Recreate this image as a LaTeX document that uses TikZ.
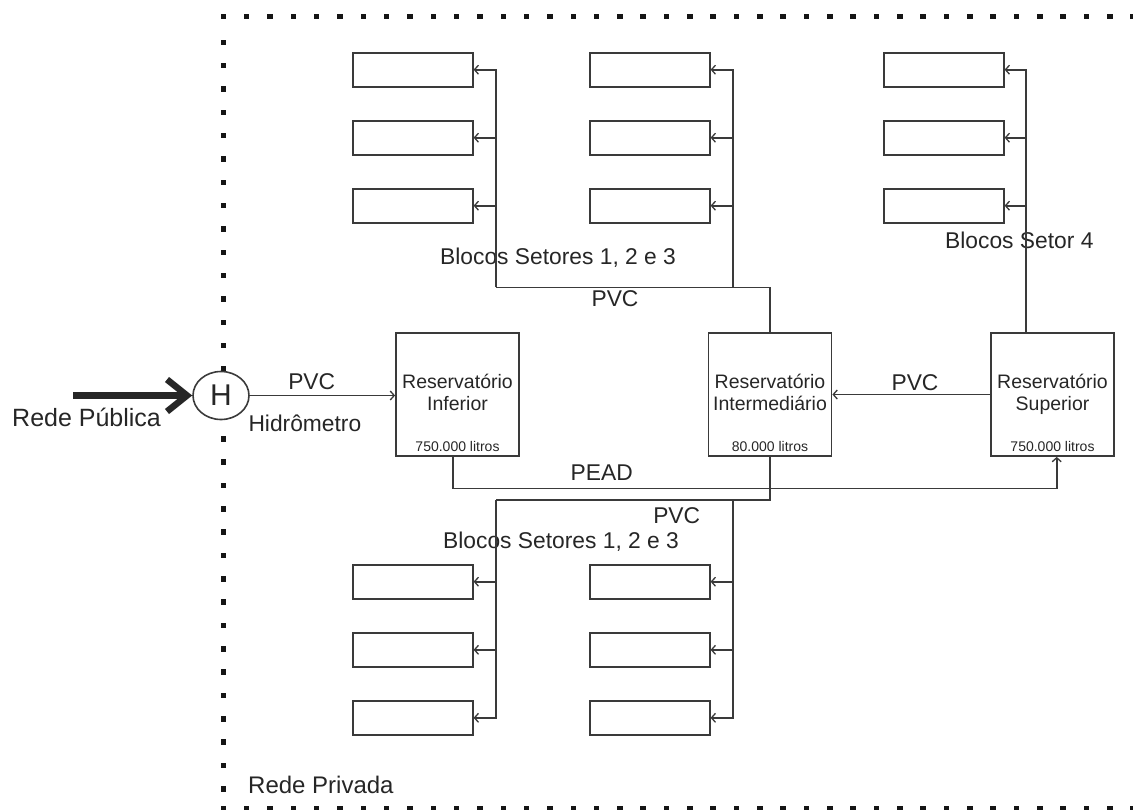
\documentclass[tikz,border=0pt]{standalone}
\usepackage{fontspec}
\setmainfont{Liberation Sans}
\usetikzlibrary{arrows.meta,calc,shapes.geometric}

\definecolor{ink}{HTML}{3A3A3A}
\definecolor{txt}{HTML}{262626}
\definecolor{dotc}{HTML}{151515}

\begin{document}
\begin{tikzpicture}[x=1pt,y=-1pt,
  pipe/.style={draw=ink, line width=1.6pt},
  feed/.style={pipe, -{Straight Barb[length=4pt,width=9pt,line width=1.3pt]}},
  tank/.style={draw=ink, line width=1.8pt, minimum width=123pt, minimum height=123pt, inner sep=0pt},
  block/.style={draw=ink, line width=1.8pt, minimum width=120pt, minimum height=34pt, inner sep=0pt},
  lbl/.style={text=txt, font=\fontsize{22.8}{27}\selectfont, inner sep=0pt},
  tanklbl/.style={text=txt, font=\fontsize{19.5}{22.7}\selectfont, inner sep=0pt, anchor=base},
  vol/.style={text=txt, font=\fontsize{14}{16}\selectfont, inner sep=0pt, anchor=base},
  dot/.style={fill=dotc},
]
\useasboundingbox (0,0) rectangle (1133,809);

% dotted boundary of the private network
\foreach \i in {0,...,39}
  \fill[dot] ({223.3+23.33*\i-2.75},13.95) rectangle ++(5.5,5.5);
\foreach \k in {0,...,32}
  \fill[dot] (220.55,{42.3+23.33*\k-2.75}) rectangle ++(5.5,5.5);
\foreach \i in {0,...,39}
  \fill[dot] ({223.3+23.33*\i-2.75},805.9) rectangle ++(5.5,5.5);

% reservoirs
\node[tank] (ri) at (457.5,394.5) {};
\node[tank] (rm) at (770,394.5) {};
\node[tank] (rs) at (1052.5,394.5) {};
\node[tanklbl] at ($(ri.center)+(0,-6.5)$) {\begin{tabular}[t]{@{}c@{}}Reservatório\\Inferior\end{tabular}};
\node[tanklbl] at ($(rm.center)+(0,-6.5)$) {\begin{tabular}[t]{@{}c@{}}Reservatório\\Intermediário\end{tabular}};
\node[tanklbl] at ($(rs.center)+(0,-6.5)$) {\begin{tabular}[t]{@{}c@{}}Reservatório\\Superior\end{tabular}};
\node[vol] at ($(ri.center)+(0,56.5)$) {750.000 litros};
\node[vol] at ($(rm.center)+(0,56.5)$) {80.000 litros};
\node[vol] at ($(rs.center)+(0,56.5)$) {750.000 litros};

% water meter
\node[ellipse, draw=ink, line width=1.6pt, fill=white, minimum width=56pt,
      minimum height=48pt, inner sep=0pt, text=txt,
      font=\fontsize{30}{30}\selectfont] (h) at (221,395.5) {H};

% building blocks
\node[block] (a1) at (412.7,69.7) {};
\node[block] (a2) at (412.7,137.7) {};
\node[block] (a3) at (412.7,205.7) {};
\node[block] (b1) at (649.7,69.7) {};
\node[block] (b2) at (649.7,137.7) {};
\node[block] (b3) at (649.7,205.7) {};
\node[block] (c1) at (943.7,69.7) {};
\node[block] (c2) at (943.7,137.7) {};
\node[block] (c3) at (943.7,205.7) {};
\node[block] (d1) at (412.7,581.7) {};
\node[block] (d2) at (412.7,649.8) {};
\node[block] (d3) at (412.7,717.8) {};
\node[block] (e1) at (649.7,581.7) {};
\node[block] (e2) at (649.7,649.8) {};
\node[block] (e3) at (649.7,717.8) {};

% pipe junctions
\coordinate (busT) at (495.7,287.3);
\coordinate (riseT) at (732.7,287.3);
\coordinate (busB) at (495.7,500);
\coordinate (riseB) at (732.7,500);
\coordinate (s4) at (1026,300);
\coordinate (pA) at (452.7,488.3);
\coordinate (pB) at (1056.7,488.3);
\coordinate (src) at (73,395.5);

% labels
\node[lbl, anchor=base west, font=\fontsize{25}{30}\selectfont] at (12,426) {Rede Pública};
\node[lbl, anchor=base] at (311.7,389) {PVC};
\node[lbl, anchor=base west] at (248.3,431.7) {Hidrômetro};
\node[lbl, anchor=base] at (915,390) {PVC};
\node[lbl, anchor=base west] at (440,264) {Blocos Setores 1, 2 e 3};
\node[lbl, anchor=base] at (615,306.7) {PVC};
\node[lbl, anchor=base west] at (945,248.3) {Blocos Setor 4};
\node[lbl, anchor=base] at (601.7,480) {PEAD};
\node[lbl, anchor=base] at (676.7,523.3) {PVC};
\node[lbl, anchor=base west] at (443,548.3) {Blocos Setores 1, 2 e 3};
\node[lbl, anchor=base west, font=\fontsize{24}{28}\selectfont] at (248,793.5) {Rede Privada};

% supply from the public network
\draw[line width=6.5pt, draw=txt, -{Straight Barb[length=20pt,width=32pt]}] (src) -- (h.west);
\draw[feed] (h.east) -- (h.east -| ri.west);
\draw[feed] (rs.west) -- (rm.east);

% upper distribution
\draw[pipe] (rm.north) |- (busT);
\draw[feed] (busT) |- (a1.east);
\draw[feed] (busT |- a2.east) -- (a2.east);
\draw[feed] (busT |- a3.east) -- (a3.east);
\draw[feed] (riseT) |- (b1.east);
\draw[feed] (riseT |- b2.east) -- (b2.east);
\draw[feed] (riseT |- b3.east) -- (b3.east);

% sector 4
\draw[feed] (s4 |- rs.north) |- (c1.east);
\draw[feed] (s4 |- c2.east) -- (c2.east);
\draw[feed] (s4 |- c3.east) -- (c3.east);

% lower distribution
\draw[pipe] (rm.south) |- (busB);
\draw[feed] (busB) |- (d3.east);
\draw[feed] (busB |- d1.east) -- (d1.east);
\draw[feed] (busB |- d2.east) -- (d2.east);
\draw[feed] (riseB) |- (e3.east);
\draw[feed] (riseB |- e1.east) -- (e1.east);
\draw[feed] (riseB |- e2.east) -- (e2.east);

% PEAD pumping line
\draw[feed] (pA |- ri.south) -- (pA) -- (pB) -- (pB |- rs.south);
\end{tikzpicture}
\end{document}
